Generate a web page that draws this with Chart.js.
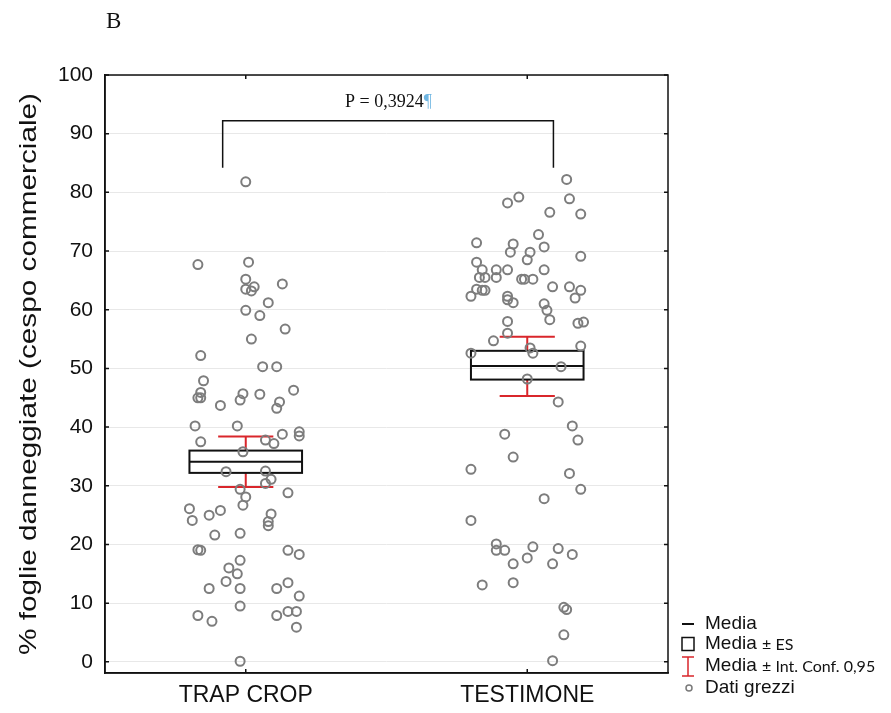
<!DOCTYPE html>
<html>
<head>
<meta charset="utf-8">
<title>% foglie danneggiate</title>
<script src="https://cdn.jsdelivr.net/npm/chart.js@4.4.1/dist/chart.umd.min.js"></script>
<style>
  body { margin: 0; background: #fff; }
  #wrap { width: 891px; height: 713px; }
</style>
</head>
<body>
<div id="wrap"><canvas id="chart" width="891" height="713"></canvas></div>
<script>
// Categories and tick labels
const categories = ['TRAP CROP', 'TESTIMONE'];
const yTicks = [0, 10, 20, 30, 40, 50, 60, 70, 80, 90, 100];
const yTitle = '% foglie danneggiate (cespo commerciale)';

// Raw data, jitter = horizontal offset from the category
const trapValues = [81.8, 67.7, 68.1, 65.2, 63.5, 63.9, 63.2, 64.4, 61.2, 59.9, 59.0, 56.7, 55.0, 52.2, 50.3, 50.3,
  47.9, 45.9, 45.0, 45.0, 45.7, 44.6, 45.6, 46.3, 43.7, 44.3, 43.2, 40.2, 40.2, 39.2, 38.5, 38.8, 37.5, 37.8, 37.2,
  35.8, 32.4, 32.5, 31.1, 30.4, 29.4, 28.1, 28.8, 26.7, 26.1, 25.8, 25.0, 24.1, 25.2, 23.9, 23.2, 21.6, 21.9, 19.1,
  19.0, 19.0, 18.3, 17.3, 16.0, 15.0, 13.7, 12.5, 12.5, 12.5, 13.5, 11.2, 9.5, 7.9, 6.9, 7.9, 8.6, 8.6, 5.9, 0.1];
const trapJitter = [0.00, -0.17, 0.01, 0.00, 0.00, 0.03, 0.02, 0.13, 0.08, 0.00, 0.05, 0.14, 0.02, -0.16, 0.06, 0.11,
  -0.15, -0.16, -0.17, -0.16, -0.01, -0.02, 0.05, 0.17, -0.09, 0.12, 0.11, -0.18, -0.03, 0.19, 0.19, 0.13, -0.16, 0.07, 0.10,
  -0.01, -0.07, 0.07, 0.09, 0.07, -0.02, 0.00, 0.15, -0.01, -0.20, -0.09, -0.13, -0.19, 0.09, 0.08, 0.08, -0.11, -0.02, -0.17,
  -0.16, 0.15, 0.19, -0.02, -0.06, -0.03, -0.07, -0.13, -0.02, 0.11, 0.15, 0.19, -0.02, -0.17, -0.12, 0.11, 0.15, 0.18, 0.18, -0.02];

const testValues = [82.2, 79.2, 78.2, 78.9, 76.6, 76.3, 72.8, 71.4, 71.2, 70.7, 69.8, 69.8, 69.1, 68.5, 68.1, 66.8,
  66.8, 66.8, 66.8, 65.5, 65.5, 65.5, 65.2, 65.2, 65.2, 63.5, 63.3, 63.3, 62.3, 63.9, 63.9, 63.3, 62.0, 62.3, 61.7,
  61.2, 61.0, 59.9, 58.3, 58.0, 57.7, 57.9, 56.0, 54.7, 53.8, 52.6, 53.5, 52.6, 50.3, 48.2, 44.3, 40.2, 38.8, 37.8,
  34.9, 32.8, 32.1, 29.4, 27.8, 24.1, 20.1, 19.0, 19.0, 19.6, 19.3, 18.3, 17.7, 16.7, 16.7, 13.1, 13.5, 9.3, 8.9, 4.6, 0.2];
const testJitter = [0.14, -0.03, -0.07, 0.15, 0.08, 0.19, 0.04, -0.18, -0.05, 0.06, 0.01, -0.06, 0.19, 0.00, -0.18, -0.16,
  -0.11, -0.07, 0.06, -0.17, -0.15, -0.11, -0.02, -0.01, 0.02, -0.18, -0.16, -0.15, -0.20, 0.09, 0.15, 0.19, 0.17, -0.07, -0.07,
  -0.05, 0.06, 0.07, 0.08, -0.07, 0.18, 0.20, -0.07, -0.12, 0.19, -0.20, 0.01, 0.02, 0.12, 0.00, 0.11, 0.16, -0.08, 0.18,
  -0.05, -0.20, 0.15, 0.19, 0.06, -0.20, -0.11, -0.11, -0.08, 0.02, 0.11, 0.16, 0.00, -0.05, 0.09, -0.16, -0.05, 0.13, 0.14, 0.13, 0.09];

// Summary stats per category
const means = [34.1, 50.4];
const seLow = [32.2, 48.1];
const seHigh = [36.0, 53.0];
const ciLow = [29.8, 45.3];
const ciHigh = [38.4, 55.4];

const pLabel = 'P = 0,3924';
const legendItems = ['Media', 'Media ± ES', 'Media ± Int. Conf. 0,95', 'Dati grezzi'];

function toPoints(center, jitter, values) {
  return values.map((v, i) => ({ x: center + jitter[i], y: v }));
}

// Box (mean ± ES), CI whiskers and mean line
const boxPlugin = {
  id: 'boxes',
  beforeDatasetsDraw(chart) {
    const ctx = chart.ctx;
    const xs = chart.scales.x, ys = chart.scales.y;
    ctx.save();
    categories.forEach((c, i) => {
      const cx = i + 1;
      const l = xs.getPixelForValue(cx - 0.2), r = xs.getPixelForValue(cx + 0.2);
      const xm = xs.getPixelForValue(cx);
      const cl = xs.getPixelForValue(cx - 0.098), cr = xs.getPixelForValue(cx + 0.098);
      // CI
      ctx.strokeStyle = '#d9262b';
      ctx.lineWidth = 2;
      ctx.beginPath();
      ctx.moveTo(xm, ys.getPixelForValue(ciHigh[i])); ctx.lineTo(xm, ys.getPixelForValue(seHigh[i]));
      ctx.moveTo(xm, ys.getPixelForValue(ciLow[i])); ctx.lineTo(xm, ys.getPixelForValue(seLow[i]));
      ctx.moveTo(cl, ys.getPixelForValue(ciHigh[i])); ctx.lineTo(cr, ys.getPixelForValue(ciHigh[i]));
      ctx.moveTo(cl, ys.getPixelForValue(ciLow[i])); ctx.lineTo(cr, ys.getPixelForValue(ciLow[i]));
      ctx.stroke();
      // box
      ctx.strokeStyle = '#111';
      ctx.lineWidth = 2;
      const t = ys.getPixelForValue(seHigh[i]), b = ys.getPixelForValue(seLow[i]);
      ctx.strokeRect(l, t, r - l, b - t);
      ctx.beginPath();
      ctx.moveTo(l, ys.getPixelForValue(means[i])); ctx.lineTo(r, ys.getPixelForValue(means[i]));
      ctx.stroke();
    });
    ctx.restore();
  },
  afterDraw(chart) {
    const ctx = chart.ctx;
    const a = chart.chartArea;
    const xs = chart.scales.x, ys = chart.scales.y;
    ctx.save();
    // frame
    ctx.strokeStyle = '#111';
    ctx.lineWidth = 1.5;
    ctx.strokeRect(a.left, a.top, a.right - a.left, a.bottom - a.top);
    // inward ticks
    ctx.beginPath();
    yTicks.forEach(v => {
      const y = ys.getPixelForValue(v);
      ctx.moveTo(a.left, y); ctx.lineTo(a.left + 4, y);
      ctx.moveTo(a.right, y); ctx.lineTo(a.right - 4, y);
    });
    categories.forEach((c, i) => {
      const x = xs.getPixelForValue(i + 1);
      ctx.moveTo(x, a.bottom); ctx.lineTo(x, a.bottom - 4);
      ctx.moveTo(x, a.top); ctx.lineTo(x, a.top + 4);
    });
    ctx.stroke();

    // y axis title, stretched along its length like the original
    ctx.save();
    ctx.fillStyle = '#111';
    ctx.font = '24px "Liberation Sans", Arial, sans-serif';
    ctx.textAlign = 'center';
    ctx.textBaseline = 'middle';
    ctx.translate(29, (a.top + a.bottom) / 2);
    ctx.rotate(-Math.PI / 2);
    const tw = ctx.measureText(yTitle).width;
    ctx.scale(562 / tw, 1);
    ctx.fillText(yTitle, 0, 0);
    ctx.restore();

    // significance bracket
    const bl = xs.getPixelForValue(0.918), br = xs.getPixelForValue(2.093);
    const bt = ys.getPixelForValue(92.2), bb = ys.getPixelForValue(84.2);
    ctx.lineWidth = 1.5;
    ctx.beginPath();
    ctx.moveTo(bl, bb); ctx.lineTo(bl, bt); ctx.lineTo(br, bt); ctx.lineTo(br, bb);
    ctx.stroke();
    ctx.font = '18px "Liberation Serif", "Times New Roman", serif';
    ctx.fillStyle = '#111';
    ctx.textBaseline = 'alphabetic';
    ctx.textAlign = 'left';
    ctx.fillText(pLabel, 345, 107);
    const pw = ctx.measureText(pLabel).width;
    ctx.fillStyle = '#6fb6e2';
    ctx.fillText('¶', 345 + pw, 107);

    // panel letter
    ctx.fillStyle = '#111';
    ctx.font = '23px "Liberation Serif", "Times New Roman", serif';
    ctx.fillText('B', 106, 28);

    // legend
    const ix = 682, tx = 705;
    const rows = [624, 644, 666, 688];
    ctx.strokeStyle = '#111';
    ctx.lineWidth = 2;
    ctx.beginPath(); ctx.moveTo(ix, rows[0]); ctx.lineTo(ix + 12, rows[0]); ctx.stroke();
    ctx.lineWidth = 1.5;
    ctx.strokeRect(ix, rows[1] - 6.5, 12, 13);
    ctx.strokeStyle = '#d9262b';
    ctx.beginPath();
    ctx.moveTo(ix + 6, rows[2] - 9); ctx.lineTo(ix + 6, rows[2] + 10);
    ctx.moveTo(ix, rows[2] - 9); ctx.lineTo(ix + 12, rows[2] - 9);
    ctx.moveTo(ix, rows[2] + 10); ctx.lineTo(ix + 12, rows[2] + 10);
    ctx.stroke();
    ctx.strokeStyle = '#7a7a7a';
    ctx.beginPath(); ctx.arc(ix + 7, rows[3], 3, 0, Math.PI * 2); ctx.stroke();

    ctx.fillStyle = '#111';
    ctx.textBaseline = 'middle';
    const big = '19px "Liberation Sans", Arial, sans-serif';
    const small = '16px Lato, "Open Sans", sans-serif';
    legendItems.forEach((txt, i) => {
      const parts = txt.split(' ± ');
      ctx.font = big;
      ctx.fillText(parts[0], tx, rows[i]);
      if (parts.length > 1) {
        const w = ctx.measureText(parts[0] + ' ').width;
        ctx.font = small;
        ctx.fillText('± ' + parts[1], tx + w, rows[i] + 1);
      }
    });
    ctx.restore();
  }
};

new Chart(document.getElementById('chart'), {
  type: 'scatter',
  data: {
    datasets: [
      { label: categories[0], data: toPoints(1, trapJitter, trapValues) },
      { label: categories[1], data: toPoints(2, testJitter, testValues) }
    ].map(d => Object.assign(d, {
      pointRadius: 4.5,
      pointHoverRadius: 4.5,
      pointBorderWidth: 2,
      borderColor: '#7d7d7d',
      backgroundColor: 'rgba(0,0,0,0)'
    }))
  },
  options: {
    responsive: false,
    animation: false,
    layout: { padding: { top: 75, right: 223, left: 0, bottom: 0 } },
    plugins: { legend: { display: false }, tooltip: { enabled: false } },
    scales: {
      x: {
        type: 'linear',
        min: 0.5,
        max: 2.5,
        afterBuildTicks: s => { s.ticks = categories.map((c, i) => ({ value: i + 1 })); },
        afterFit: s => { s.height = 40; },
        ticks: {
          callback: v => categories[v - 1] || '',
          color: '#111',
          font: { size: 23, family: '"Liberation Sans", Arial, sans-serif' },
          padding: 9,
          maxRotation: 0
        },
        grid: { display: false, drawTicks: false },
        border: { display: true, color: '#111', width: 1.5 }
      },
      y: {
        min: -1.9,
        max: 100,
        afterBuildTicks: s => { s.ticks = yTicks.map(v => ({ value: v })); },
        afterFit: s => { s.width = 105; },
        ticks: {
          color: '#111',
          font: { size: 21, family: '"Liberation Sans", Arial, sans-serif' },
          padding: 12
        },
        grid: { color: '#e8e8e8', lineWidth: 1, drawTicks: false },
        border: { display: true, color: '#111', width: 1.5 }
      }
    }
  },
  plugins: [boxPlugin]
});
</script>
</body>
</html>
